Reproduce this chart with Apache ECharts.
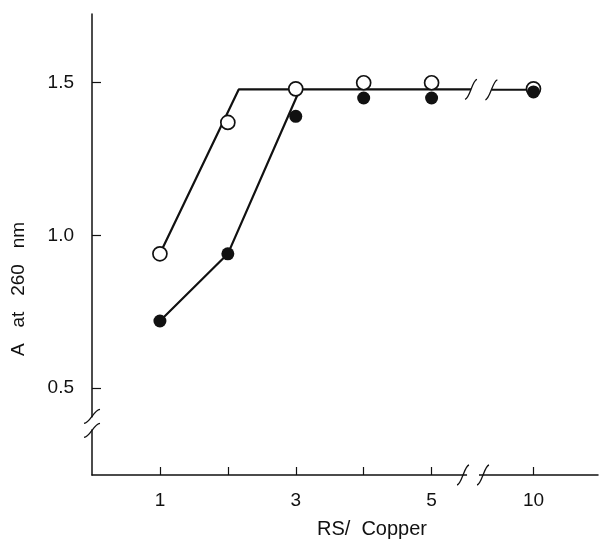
<!DOCTYPE html>
<html>
<head>
<meta charset="utf-8">
<script src="https://cdn.jsdelivr.net/npm/echarts@6/dist/echarts.min.js"></script>
<style>
  html, body { margin: 0; padding: 0; background: #fff; }
  #chart { width: 599px; height: 548px; }
</style>
</head>
<body>
<div id="chart"></div>
<script>
// RS/Copper ratios; the axis is broken between 5 and 10, so 10 sits at 6.5
const xLabels = ['1', '2', '3', '4', '5', '10'];
const xPos = [1, 2, 3, 4, 5, 6.5];
const xLabelShown = ['1', '3', '5', '10'];
const yTicks = [0.5, 1.0, 1.5];

// A at 260 nm, open and filled circles
const openVals = [0.94, 1.37, 1.48, 1.50, 1.50, 1.48];
const filledVals = [0.72, 0.94, 1.39, 1.45, 1.45, 1.47];

// hand drawn fit lines
const openFitX = [1, 2.16, 5.58];
const openFitY = [0.94, 1.478, 1.478];
const openFitTailX = [5.88, 6.5];
const openFitTailY = [1.477, 1.477];
const filledFitX = [1, 2, 3.06];
const filledFitY = [0.72, 0.94, 1.478];

const X_BREAK = 5.61;   // break on the x axis
const Y_BREAK = 0.385;  // break on the y axis
const LINE_BREAK = [5.58, 5.88];

const ink = '#111';
const font = 'Liberation Sans, Arial, Helvetica, sans-serif';

const zip = (xs, ys) => xs.map((x, i) => [x, ys[i]]);

let chart = echarts.init(document.getElementById('chart'));

let lineSeries = (data) => ({
  type: 'line',
  data: data,
  symbol: 'none',
  silent: true,
  lineStyle: { color: ink, width: 2.2 },
  z: 2
});

chart.setOption({
  animation: false,
  grid: { left: 92, right: 1, top: 14, bottom: 73 },
  xAxis: {
    type: 'value',
    min: 0,
    max: 7.45,
    axisLine: { lineStyle: { color: ink, width: 1.5 } },
    splitLine: { show: false },
    axisTick: {
      inside: true,
      length: 8,
      lineStyle: { color: ink, width: 1.2 },
      customValues: xPos
    },
    axisLabel: {
      customValues: xPos.filter((p, i) => xLabelShown.includes(xLabels[i])),
      formatter: (v) => xLabels[xPos.indexOf(v)],
      color: ink,
      fontSize: 19,
      fontFamily: font,
      margin: 16
    }
  },
  yAxis: {
    type: 'value',
    min: 0.216,
    max: 1.725,
    axisLine: { show: true, lineStyle: { color: ink, width: 1.5 } },
    splitLine: { show: false },
    axisTick: {
      show: true,
      inside: true,
      length: 9,
      lineStyle: { color: ink, width: 1.2 },
      customValues: yTicks
    },
    axisLabel: {
      customValues: yTicks,
      formatter: (v) => v.toFixed(1),
      color: ink,
      fontSize: 19,
      fontFamily: font,
      margin: 18
    }
  },
  series: [
    lineSeries(zip(openFitX, openFitY)),
    lineSeries(zip(openFitTailX, openFitTailY)),
    lineSeries(zip(filledFitX, filledFitY)),
    {
      type: 'scatter',
      data: zip(xPos, openVals),
      symbol: 'circle',
      symbolSize: 14,
      itemStyle: { color: '#fff', borderColor: ink, borderWidth: 1.7, opacity: 1 },
      z: 3
    },
    {
      type: 'scatter',
      data: zip(xPos, filledVals),
      symbol: 'circle',
      symbolSize: 13,
      itemStyle: { color: ink, opacity: 1 },
      z: 4
    }
  ]
});

// break marks drawn where the scales put them
function slash(cx, cy, dx, dy) {
  return {
    type: 'bezierCurve',
    shape: {
      x1: cx - dx, y1: cy + dy,
      cpx1: cx - dx * 0.2, cpy1: cy + dy * 0.9,
      cpx2: cx + dx * 0.2, cpy2: cy - dy * 0.9,
      x2: cx + dx, y2: cy - dy
    },
    style: { stroke: ink, lineWidth: 1.3, fill: null },
    z: 10
  };
}

const yb = chart.convertToPixel({ gridIndex: 0 }, [0, Y_BREAK]);
const xb = chart.convertToPixel({ gridIndex: 0 }, [X_BREAK, 0.216]);
const lb0 = chart.convertToPixel({ gridIndex: 0 }, [LINE_BREAK[0], openFitY[2]]);
const lb1 = chart.convertToPixel({ gridIndex: 0 }, [LINE_BREAK[1], openFitTailY[0]]);

chart.setOption({
  graphic: [
    { type: 'rect', shape: { x: yb[0] - 3, y: yb[1] - 6, width: 6, height: 12 }, style: { fill: '#fff' }, z: 9 },
    slash(yb[0], yb[1] - 7, 8, 7),
    slash(yb[0], yb[1] + 7, 8, 7),
    { type: 'rect', shape: { x: xb[0] - 6, y: xb[1] - 3, width: 12, height: 6 }, style: { fill: '#fff' }, z: 9 },
    slash(xb[0] - 10, xb[1], 6, 10),
    slash(xb[0] + 10, xb[1], 6, 10),
    slash(lb0[0], lb0[1], 6, 10),
    slash(lb1[0], lb1[1], 6, 10),
    {
      type: 'text',
      x: 19, y: 289,
      rotation: Math.PI / 2,
      style: {
        text: 'A   at   260   nm',
        fill: ink,
        font: '19px ' + font,
        align: 'center',
        verticalAlign: 'middle'
      }
    },
    {
      type: 'text',
      x: 372, y: 529,
      style: {
        text: 'RS/  Copper',
        fill: ink,
        font: '20px ' + font,
        align: 'center',
        verticalAlign: 'middle'
      }
    }
  ]
});
</script>
</body>
</html>
